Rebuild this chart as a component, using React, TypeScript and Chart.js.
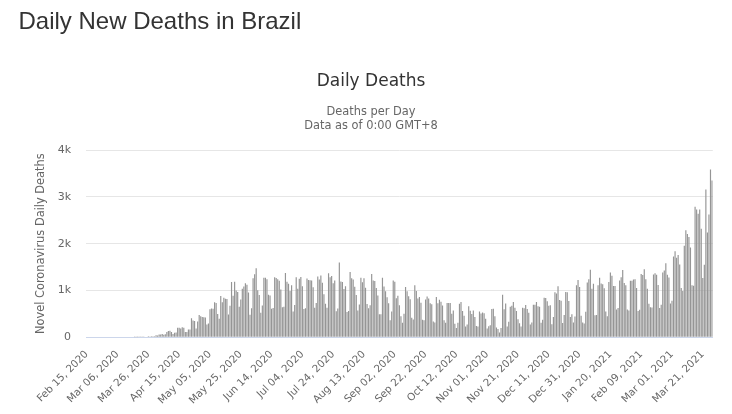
import React, { useEffect, useRef } from "react";
import { Chart, registerables } from "chart.js";

Chart.register(...registerables);

const FONT = "'DejaVu Sans', 'Lucida Grande', sans-serif";

// Series starts Sat Feb 15, 2020 (one value per day)
const START_YEAR = 2020;
const START_MONTH = 1; // February (0-based)
const START_DAY = 15;
const MONTH_NAMES = ["Jan", "Feb", "Mar", "Apr", "May", "Jun", "Jul", "Aug", "Sep", "Oct", "Nov", "Dec"];

const feb2020 = [0, 0, 0, 0, 0, 0, 0, 0, 0, 0, 0, 0, 0, 0, 0];
const mar2020 = [0, 0, 0, 0, 0, 0, 0, 0, 0, 0, 0, 0, 0, 0, 0, 0, 1, 3, 3, 4, 7, 7, 9, 12, 11, 20, 15, 22, 22, 23, 42];
const apr2020 = [40, 58, 60, 73, 54, 67, 114, 133, 141, 115, 68, 99, 105, 204, 204, 188, 217, 206, 115, 113, 166, 165, 407, 357, 346, 189, 338, 474, 449, 435];
const may2020 = [428, 421, 275, 296, 600, 615, 610, 751, 730, 496, 396, 881, 749, 844, 824, 816, 485, 674, 1179, 888, 1188, 1001, 965, 653, 807, 1039, 1086, 1156, 1124, 956, 480];
const jun2020 = [623, 1262, 1349, 1473, 1005, 904, 525, 679, 1272, 1274, 1239, 909, 892, 612, 627, 1282, 1269, 1238, 1206, 1022, 641, 654, 1374, 1185, 1141, 990, 1109, 552, 692, 1280];
const jul2020 = [1038, 1252, 1290, 1091, 602, 620, 1254, 1223, 1220, 1214, 1071, 631, 733, 1300, 1233, 1322, 1163, 921, 716, 632, 1367, 1284, 1311, 1156, 1211, 555, 614, 1595, 1190, 1180, 1030];
const aug2020 = [1088, 541, 561, 1394, 1260, 1237, 1079, 905, 572, 703, 1274, 1175, 1262, 1060, 709, 620, 684, 1352, 1212, 1204, 1054, 892, 494, 494, 1271, 1085, 984, 855, 727, 366, 553];
const sep2020 = [1215, 1184, 834, 888, 682, 447, 310, 504, 1075, 983, 874, 814, 415, 381, 1113, 987, 829, 858, 739, 377, 363, 809, 869, 831, 729, 705, 335, 317, 863, 729];
const oct2020 = [800, 760, 680, 366, 310, 734, 734, 730, 502, 571, 287, 201, 309, 716, 754, 562, 461, 230, 271, 661, 566, 497, 571, 432, 242, 231, 549, 510, 530, 515, 396];
const nov2020 = [190, 236, 256, 603, 610, 451, 211, 176, 103, 201, 908, 600, 722, 230, 333, 652, 676, 754, 632, 560, 384, 302, 228, 630, 620, 691, 602, 525, 272, 317];
const dec2020 = [697, 697, 755, 664, 654, 313, 376, 842, 837, 770, 672, 686, 279, 433, 964, 936, 1092, 797, 783, 306, 474, 968, 963, 777, 433, 493, 314, 443, 1111, 1224, 1074];
const jan2021 = [462, 314, 293, 543, 1171, 1242, 1440, 1035, 1141, 469, 476, 1110, 1274, 1151, 1131, 1050, 551, 452, 1183, 1382, 1316, 1096, 1096, 592, 627, 1214, 1283, 1439, 1161, 1114, 595];
const feb2021 = [575, 1209, 1209, 1232, 1239, 1051, 564, 589, 1350, 1330, 1452, 1239, 1035, 716, 644, 639, 1340, 1367, 1337, 1117, 627, 697, 1386, 1428, 1582, 1337, 1275, 721];
const mar2021 = [778, 1726, 1840, 1699, 1760, 1555, 1054, 987, 1954, 2286, 2207, 2140, 1920, 1111, 1100, 2790, 2730, 2640, 2730, 2320, 1265, 1550, 3157, 2240, 2620, 3585, 3350];

const dailyDeaths = [
  ...feb2020, ...mar2020, ...apr2020, ...may2020, ...jun2020, ...jul2020,
  ...aug2020, ...sep2020, ...oct2020, ...nov2020, ...dec2020,
  ...jan2021, ...feb2021, ...mar2021,
];

const X_TICK_LABELS = [
  "Feb 15, 2020", "Mar 06, 2020", "Mar 26, 2020", "Apr 15, 2020", "May 05, 2020",
  "May 25, 2020", "Jun 14, 2020", "Jul 04, 2020", "Jul 24, 2020", "Aug 13, 2020",
  "Sep 02, 2020", "Sep 22, 2020", "Oct 12, 2020", "Nov 01, 2020", "Nov 21, 2020",
  "Dec 11, 2020", "Dec 31, 2020", "Jan 20, 2021", "Feb 09, 2021", "Mar 01, 2021",
  "Mar 21, 2021",
];
const Y_TICKS = [0, 1000, 2000, 3000, 4000];
const Y_TICK_LABELS = ["0", "1k", "2k", "3k", "4k"];

function makeDateLabels(count: number): string[] {
  const out: string[] = [];
  for (let i = 0; i < count; i++) {
    const dt = new Date(Date.UTC(START_YEAR, START_MONTH, START_DAY + i));
    out.push(
      `${MONTH_NAMES[dt.getUTCMonth()]} ${String(dt.getUTCDate()).padStart(2, "0")}, ${dt.getUTCFullYear()}`
    );
  }
  return out;
}

export default function App() {
  const ref = useRef<HTMLCanvasElement>(null);

  useEffect(() => {
    if (!ref.current) return;
    const labels = makeDateLabels(dailyDeaths.length);
    const tickSet = new Set(X_TICK_LABELS);
    const chart = new Chart(ref.current, {
      type: "bar",
      data: {
        labels,
        datasets: [
          {
            label: "Daily Deaths",
            data: dailyDeaths,
            backgroundColor: "#959595",
            borderWidth: 0,
            barPercentage: 1,
            categoryPercentage: 0.76,
          },
        ],
      },
      options: {
        responsive: false,
        animation: false,
        devicePixelRatio: 1,
        layout: { padding: { left: 29.2, right: 19.2, top: 0, bottom: 0 } },
        plugins: {
          legend: { display: false },
          tooltip: { enabled: false },
          title: {
            display: true,
            text: "Daily Deaths",
            color: "#333333",
            font: { size: 17, weight: "normal", family: FONT, lineHeight: 1.2 },
            padding: { top: 71, bottom: 0 },
          },
          subtitle: {
            display: true,
            text: ["Deaths per Day", "Data as of 0:00 GMT+8"],
            color: "#666666",
            font: { size: 11.4, family: FONT, lineHeight: 1.25 },
            padding: { top: 13.5, bottom: 16.6 },
          },
        },
        scales: {
          x: {
            type: "category",
            grid: { display: false, drawTicks: false },
            border: { display: true, color: "#ccd6eb", width: 1 },
            ticks: {
              autoSkip: false,
              minRotation: 45,
              maxRotation: 45,
              padding: 11,
              color: "#666666",
              font: { size: 10.3, family: FONT },
              callback: (_v: any, index: number) => (tickSet.has(labels[index]) ? labels[index] : null),
            },
            afterFit: (s: any) => {
              s.height = 76.7;
            },
          },
          y: {
            min: 0,
            max: 4000,
            grid: {
              color: (c: any) => (c.tick && c.tick.value === 0 ? "rgba(0,0,0,0)" : "#e6e6e6"),
              drawTicks: false,
              lineWidth: 1,
            },
            border: { display: false },
            ticks: {
              stepSize: 1000,
              padding: 15,
              color: "#666666",
              font: { size: 11, family: FONT },
              callback: (v: any) => {
                const i = Y_TICKS.indexOf(Number(v));
                return i >= 0 ? Y_TICK_LABELS[i] : "";
              },
            },
            title: {
              display: true,
              text: "Novel Coronavirus Daily Deaths",
              color: "#666666",
              font: { size: 11.4, family: FONT, lineHeight: 1.2 },
              padding: { top: 5, bottom: 0 },
            },
            afterFit: (s: any) => {
              s.width = 56.8;
            },
          },
        },
      },
    } as any);
    return () => chart.destroy();
  }, []);

  return (
    <div
      style={{
        position: "fixed",
        left: 0,
        top: 0,
        width: 732,
        height: 414,
        background: "#ffffff",
        overflow: "hidden",
      }}
    >
      <canvas
        ref={ref}
        width={732}
        height={414}
        style={{ position: "absolute", left: 0, top: 0, width: 732, height: 414 }}
      />
      <div
        style={{
          position: "absolute",
          left: 18.5,
          top: 9,
          fontFamily: "'Liberation Sans', Arial, sans-serif",
          fontSize: 24,
          lineHeight: "24px",
          color: "#333333",
          whiteSpace: "nowrap",
        }}
      >
        Daily New Deaths in Brazil
      </div>
    </div>
  );
}
